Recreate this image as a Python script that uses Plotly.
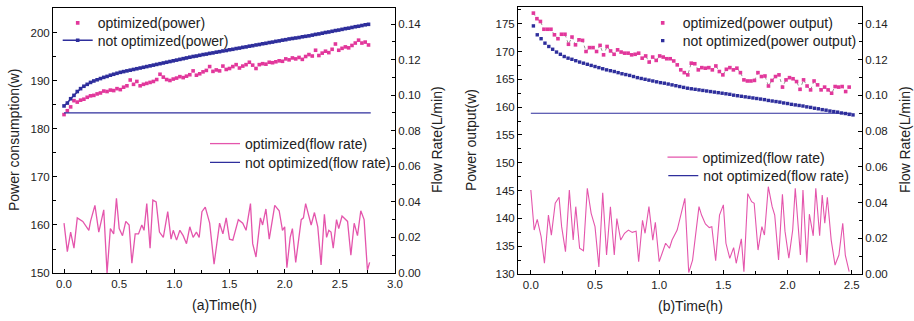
import plotly.graph_objects as go

# ---------------- data: panel (a) ----------------
step_a = 0.03
opt_power_a = [183.0, 183.8, 184.6, 185.9, 185.6, 186.0, 186.2, 186.6, 186.9, 187.0,
               187.3, 187.5, 187.9, 187.8, 188.1, 188.0, 188.4, 188.2, 188.7, 189.0,
               190.2, 189.3, 189.9, 189.0, 189.3, 189.5, 189.7, 189.9, 190.3, 191.4,
               190.8, 190.3, 190.1, 190.4, 190.6, 190.9, 190.7, 191.0, 191.3, 192.1,
               191.2, 191.5, 191.9, 192.2, 193.0, 192.0, 192.3, 192.1, 193.1, 192.4,
               192.6, 193.0, 193.4, 192.7, 193.1, 193.4, 193.9, 193.3, 192.6, 193.4,
               193.6, 193.5, 193.9, 193.8, 194.0, 194.2, 194.1, 194.6, 194.4, 194.8,
               194.6, 194.9, 194.5, 195.1, 195.5, 195.2, 196.4, 195.3, 195.8, 196.2,
               195.9, 196.6, 197.7, 196.4, 196.8, 197.1, 196.9, 197.4, 197.9, 198.5,
               197.9, 198.1, 197.5]
notopt_power_a = [184.8, 185.4, 186.3, 187.0, 187.8, 188.4, 188.9, 189.3, 189.7, 190.0,
                  190.25, 190.5, 190.75, 190.95, 191.2, 191.4, 191.6, 191.8, 191.95, 192.1,
                  192.25, 192.4, 192.55, 192.7, 192.85, 193.0, 193.15, 193.3, 193.45, 193.6,
                  193.75, 193.9, 194.05, 194.2, 194.35, 194.5, 194.65, 194.8, 194.95, 195.1,
                  195.2, 195.35, 195.5, 195.6, 195.75, 195.85, 196.0, 196.1, 196.25, 196.35,
                  196.5, 196.6, 196.75, 196.85, 197.0, 197.1, 197.25, 197.35, 197.5, 197.6,
                  197.75, 197.85, 198.0, 198.1, 198.25, 198.35, 198.5, 198.6, 198.75, 198.85,
                  198.95, 199.05, 199.2, 199.3, 199.4, 199.55, 199.7, 199.8, 199.95, 200.1,
                  200.2, 200.35, 200.5, 200.6, 200.75, 200.9, 201.0, 201.15, 201.3, 201.4,
                  201.55, 201.7, 201.8]
t_a = [round(i * step_a, 3) for i in range(len(opt_power_a))]

flow_t_a = [0.0, 0.03, 0.06, 0.09, 0.12, 0.17, 0.225, 0.24, 0.28, 0.315, 0.36, 0.39, 0.42,
            0.45, 0.475, 0.50, 0.53, 0.56, 0.59, 0.615, 0.645, 0.675, 0.705, 0.725, 0.75,
            0.78, 0.805, 0.835, 0.865, 0.90, 0.94, 0.97, 0.99, 1.02, 1.05, 1.08, 1.11, 1.14,
            1.17, 1.20, 1.225, 1.25, 1.28, 1.32, 1.36, 1.41, 1.44, 1.47, 1.50, 1.53, 1.58,
            1.62, 1.65, 1.69, 1.71, 1.74, 1.78, 1.80, 1.83, 1.86, 1.91, 1.95, 1.98, 2.0,
            2.02, 2.05, 2.07, 2.10, 2.15, 2.17, 2.19, 2.24, 2.27, 2.30, 2.33, 2.36, 2.38,
            2.40, 2.42, 2.44, 2.47, 2.49, 2.52, 2.57, 2.60, 2.63, 2.66, 2.69, 2.72, 2.75, 2.77]
opt_flow_a = [0.028, 0.012, 0.023, 0.014, 0.031, 0.029, 0.024, 0.029, 0.038, 0.023, 0.0355,
              0.0, 0.025, 0.022, 0.042, 0.025, 0.021, 0.029, 0.027, 0.0055, 0.022, 0.022,
              0.027, 0.024, 0.039, 0.014, 0.041, 0.040, 0.023, 0.020, 0.0345, 0.019, 0.024,
              0.0185, 0.024, 0.021, 0.0165, 0.026, 0.020, 0.023, 0.020, 0.0345, 0.037, 0.028,
              0.005, 0.028, 0.022, 0.031, 0.019, 0.0185, 0.030, 0.028, 0.024, 0.039, 0.0165,
              0.009, 0.031, 0.027, 0.036, 0.019, 0.038, 0.035, 0.024, 0.026, 0.003, 0.020,
              0.025, 0.006, 0.030, 0.031, 0.039, 0.027, 0.034, 0.026, 0.0045, 0.033, 0.020,
              0.024, 0.023, 0.014, 0.030, 0.025, 0.032, 0.029, 0.010, 0.028, 0.021, 0.035,
              0.030, 0.0015, 0.006]
const_t_a = [0.0, 2.78]
notopt_flow_a = [0.09, 0.09]

# ---------------- data: panel (b) ----------------
step_b = 0.03
t0_b = 0.02
opt_power_b = [176.9, 175.9, 175.4, 174.0, 174.0, 174.0, 173.0, 172.3, 173.1, 173.1,
               171.3, 172.6, 171.2, 172.1, 172.0, 170.0, 170.7, 170.7, 170.0, 171.1,
               169.4, 170.9, 170.1, 169.5, 170.3, 169.9, 169.7, 169.7, 169.4, 169.5,
               169.7, 168.8, 169.2, 168.1, 169.0, 168.4, 169.2, 169.0, 168.7, 168.7,
               168.3, 167.6, 166.7, 166.2, 165.8, 167.9, 167.8, 166.7, 167.1, 167.0,
               167.1, 166.7, 167.4, 166.4, 165.8, 166.8, 167.1, 166.7, 167.0, 166.2,
               164.9, 164.7, 164.7, 164.8, 166.2, 165.5, 165.6, 163.8, 164.8, 165.5,
               165.8, 163.6, 164.9, 165.3, 165.1, 164.6, 163.2, 164.9, 163.8, 163.1,
               164.7, 164.0, 163.1, 163.6, 163.1, 162.5, 163.7, 163.6, 163.7, 162.8,
               163.6]
t_b_opt = [round(t0_b + i * (2.48 - t0_b) / (len(opt_power_b) - 1), 4) for i in range(len(opt_power_b))]
notopt_power_b = [174.6, 173.0, 172.3, 171.5, 170.9, 170.4, 169.9, 169.5, 169.1, 168.8,
                  168.6, 168.35, 168.1, 167.9, 167.7, 167.5, 167.3, 167.1, 166.9, 166.7,
                  166.55, 166.4, 166.2, 166.0, 165.85, 165.7, 165.5, 165.3, 165.15, 165.0,
                  164.85, 164.7, 164.55, 164.4, 164.3, 164.15, 164.0, 163.85, 163.7, 163.55,
                  163.4, 163.3, 163.2, 163.1, 163.0, 162.9, 162.8, 162.7, 162.6, 162.5,
                  162.4, 162.3, 162.15, 162.05, 161.95, 161.85, 161.75, 161.65, 161.55, 161.45,
                  161.35, 161.2, 161.1, 161.0, 160.9, 160.75, 160.65, 160.5, 160.4, 160.3,
                  160.2, 160.05, 159.95, 159.8, 159.7, 159.55, 159.45, 159.3, 159.2, 159.1,
                  158.95, 158.85, 158.7, 158.6]
t_b = [round(t0_b + i * step_b, 3) for i in range(len(notopt_power_b))]

flow_t_b = [0.0, 0.026, 0.05, 0.08, 0.106, 0.137, 0.16, 0.19, 0.22, 0.24, 0.27, 0.30, 0.33,
            0.35, 0.38, 0.41, 0.44, 0.47, 0.50, 0.53, 0.56, 0.59, 0.62, 0.65, 0.67, 0.70,
            0.73, 0.76, 0.79, 0.82, 0.84, 0.87, 0.89, 0.92, 0.95, 0.97, 1.00, 1.03, 1.05,
            1.08, 1.10, 1.14, 1.16, 1.20, 1.23, 1.26, 1.31, 1.33, 1.36, 1.39, 1.41, 1.44,
            1.47, 1.50, 1.52, 1.55, 1.58, 1.60, 1.64, 1.66, 1.69, 1.72, 1.74, 1.77, 1.80,
            1.82, 1.85, 1.88, 1.90, 1.93, 1.96, 1.98, 2.01, 2.04, 2.06, 2.10, 2.12, 2.15,
            2.17, 2.20, 2.22, 2.25, 2.27, 2.29, 2.31, 2.34, 2.37, 2.40, 2.43, 2.45, 2.48]
opt_flow_b = [0.047, 0.0246, 0.0306, 0.021, 0.006, 0.033, 0.0218, 0.0396, 0.043, 0.0265,
              0.0125, 0.047, 0.019, 0.0377, 0.0144, 0.013, 0.048, 0.034, 0.0265, 0.004,
              0.0455, 0.0106, 0.0377, 0.0106, 0.031, 0.019, 0.0228, 0.0246, 0.0233, 0.024,
              0.0069, 0.030, 0.0228, 0.0377, 0.019, 0.029, 0.0069, 0.0125, 0.0172, 0.0144,
              0.019, 0.0246, 0.030, 0.0424, 0.0008, 0.0078, 0.0377, 0.033, 0.028, 0.026,
              0.0265, 0.0075, 0.033, 0.0387, 0.0172, 0.0088, 0.0148, 0.006, 0.0197, 0.0013,
              0.045, 0.0405, 0.0396, 0.0134, 0.0265, 0.0218, 0.0489, 0.0377, 0.033, 0.0078,
              0.0446, 0.024, 0.0088, 0.0246, 0.048, 0.0106, 0.047, 0.0065, 0.0335, 0.0214,
              0.048, 0.0214, 0.0442, 0.0284, 0.043, 0.019, 0.005, 0.0106, 0.0284, 0.0106,
              0.0013]
const_t_b = [0.0, 2.5]
notopt_flow_b = [0.09, 0.09]

# ---------------- styling ----------------
PINK = "#E2379B"
PINK_L = "#E455AC"
NAVY = "#2E2E9C"
FONT = "Liberation Sans, Arial, sans-serif"
TXT = "#222222"

W, H = 914, 321


def px_x(p):
    return p / W


def px_y(p):
    return (H - p) / H


fig = go.Figure()

# panel (a)
fig.add_trace(go.Scatter(x=t_a, y=opt_power_a, mode="markers", name="optimized(power)",
                         marker=dict(symbol="square", size=3.6, color=PINK),
                         xaxis="x", yaxis="y", legend="legend"))
fig.add_trace(go.Scatter(x=t_a, y=notopt_power_a, mode="lines+markers", name="not optimized(power)",
                         line=dict(color=NAVY, width=1.5),
                         marker=dict(symbol="square", size=3.6, color=NAVY),
                         xaxis="x", yaxis="y", legend="legend2"))
fig.add_trace(go.Scatter(x=flow_t_a, y=opt_flow_a, mode="lines", name="optimized(flow rate)",
                         line=dict(color=PINK_L, width=1.3),
                         xaxis="x", yaxis="y2", legend="legend3"))
fig.add_trace(go.Scatter(x=const_t_a, y=notopt_flow_a, mode="lines", name="not optimized(flow rate)",
                         line=dict(color=NAVY, width=1.2),
                         xaxis="x", yaxis="y2", legend="legend4"))

# panel (b)
fig.add_trace(go.Scatter(x=t_b_opt, y=opt_power_b, mode="lines", showlegend=False,
                         line=dict(color="#666666", width=0.7, dash="dot"),
                         xaxis="x3", yaxis="y3", hoverinfo="skip"))
fig.add_trace(go.Scatter(x=t_b_opt, y=opt_power_b, mode="markers", name="optimized(power output)",
                         marker=dict(symbol="square", size=3.6, color=PINK),
                         xaxis="x3", yaxis="y3", legend="legend5"))
fig.add_trace(go.Scatter(x=t_b, y=notopt_power_b, mode="markers", name="not optimized(power output)",
                         marker=dict(symbol="square", size=3.4, color=NAVY),
                         xaxis="x3", yaxis="y3", legend="legend6"))
fig.add_trace(go.Scatter(x=flow_t_b, y=opt_flow_b, mode="lines", name="optimized(flow rate)",
                         line=dict(color=PINK_L, width=1.1),
                         xaxis="x3", yaxis="y4", legend="legend7"))
fig.add_trace(go.Scatter(x=const_t_b, y=notopt_flow_b, mode="lines", name="not optimized(flow rate)",
                         line=dict(color=NAVY, width=1.2),
                         xaxis="x3", yaxis="y4", legend="legend8"))

tickfont = dict(family=FONT, size=11.5, color=TXT)
common = dict(showgrid=False, zeroline=False, showline=True, linecolor="black", linewidth=1,
              ticks="inside", ticklen=4, tickcolor="black", tickwidth=1, tickfont=tickfont,
              automargin=False)


def minor(d):
    return dict(ticks="inside", dtick=d, ticklen=3, tickcolor="black", showgrid=False)


LEG_OFF = 16  # px between legend top and row centre (5 gap + half item height)


def leg(text_x, row_y):
    return dict(x=px_x(text_x - 40), y=px_y(row_y - LEG_OFF), xref="paper", yref="paper",
                xanchor="left", yanchor="top", bgcolor="rgba(0,0,0,0)", borderwidth=0,
                font=dict(family=FONT, size=14, color=TXT))


fig.update_layout(
    template="none",
    width=W, height=H, margin=dict(l=0, r=0, t=0, b=0, pad=0, autoexpand=False),
    paper_bgcolor="white", plot_bgcolor="white",
    font=dict(family=FONT, color=TXT),
    xaxis=dict(domain=[px_x(53), px_x(395)], range=[-0.1, 3.0], anchor="y", dtick=0.5, tick0=0,
               tickformat=".1f", mirror=True, minor=minor(0.25), **common),
    yaxis=dict(domain=[px_y(273), px_y(8)], range=[150, 205.2], anchor="x", dtick=10, tick0=150,
               minor=minor(5), **common),
    yaxis2=dict(overlaying="y", side="right", anchor="x", range=[0, 0.149], dtick=0.02, tick0=0,
                tickformat=".2f", minor=minor(0.01), **common),
    xaxis3=dict(domain=[px_x(518), px_x(862)], range=[-0.1, 2.58], anchor="y3", dtick=0.5, tick0=0,
                tickformat=".1f", mirror=True, minor=minor(0.25), **common),
    yaxis3=dict(domain=[px_y(274), px_y(7)], range=[130, 178], anchor="x3", dtick=5, tick0=130,
                minor=minor(2.5), **common),
    yaxis4=dict(overlaying="y3", side="right", anchor="x3", range=[0, 0.1495], dtick=0.02, tick0=0,
                tickformat=".2f", minor=minor(0.01), **common),
    legend=leg(97.7, 23.3),
    legend2=leg(97.7, 40.7),
    legend3=leg(245, 144),
    legend4=leg(245, 162.7),
    legend5=leg(682.7, 23.3),
    legend6=leg(682.7, 41),
    legend7=leg(702.5, 157.5),
    legend8=leg(703.3, 176),
    showlegend=True,
)

title_font = dict(family=FONT, size=14, color=TXT)
annos = [
    dict(text="Power consumption(w)", x=px_x(14), y=px_y(140), textangle=-90),
    dict(text="Flow Rate(L/min)", x=px_x(437), y=px_y(140), textangle=-90),
    dict(text="(a)Time(h)", x=px_x(224), y=px_y(305), textangle=0),
    dict(text="Power output(w)", x=px_x(471), y=px_y(140), textangle=-90),
    dict(text="Flow Rate(L/min)", x=px_x(905), y=px_y(140), textangle=-90),
    dict(text="(b)Time(h)", x=px_x(690), y=px_y(306), textangle=0),
]
for a in annos:
    fig.add_annotation(xref="paper", yref="paper", showarrow=False, font=title_font,
                       xanchor="center", yanchor="middle", **a)

fig.write_html("out.html")
